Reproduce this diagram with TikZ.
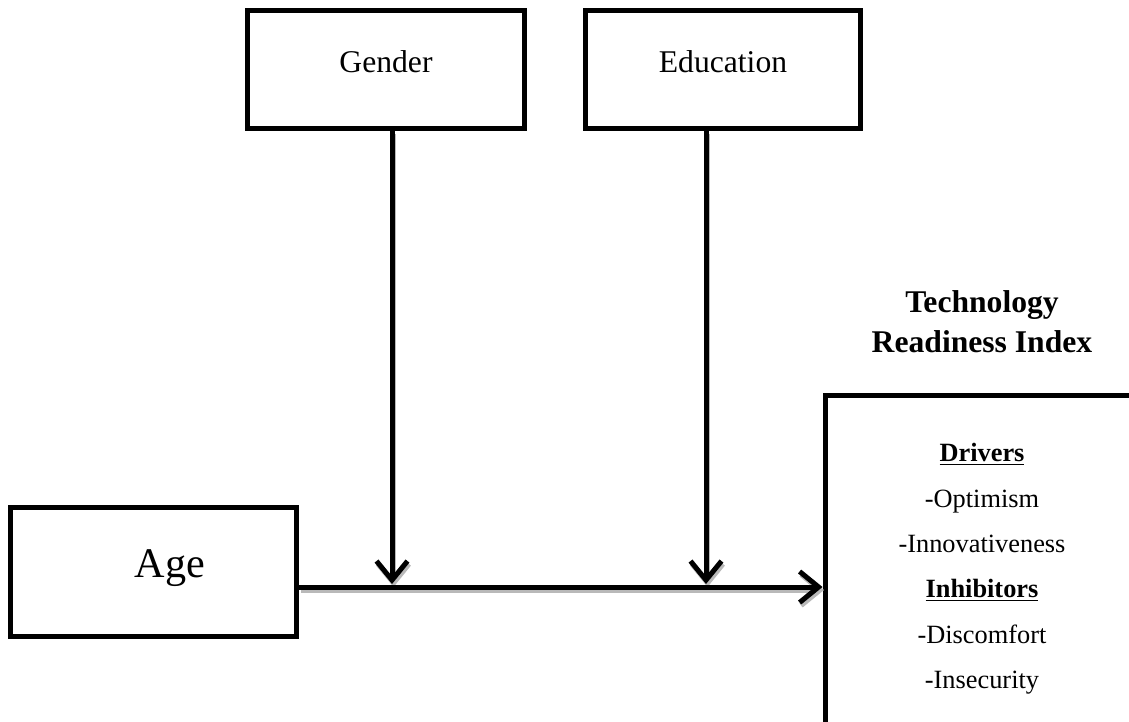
\documentclass[tikz,border=0pt]{standalone}
\usepackage{fontspec}
\setmainfont{Liberation Serif}
\usetikzlibrary{arrows.meta,positioning}

\begin{document}
\begin{tikzpicture}[x=0.02cm,y=-0.02cm,
factor/.style={
  draw,
  line width=0.1cm,
  minimum width=5.56cm,
  minimum height=2.38cm,
  inner sep=0pt},
txt/.style={
  font={\fontsize{18pt}{22pt}\selectfont},
  inner sep=0pt},
heading/.style={
  font={\bfseries\fontsize{18pt}{22.7pt}\selectfont},
  align=center,
  inner sep=0pt},
tribox/.style={
  factor,
  minimum width=6.3cm,
  minimum height=6.8cm},
items/.style={
  font={\fontsize{15pt}{25.8pt}\selectfont},
  align=center,
  inner sep=0pt},
flow/.style={
  line width=0.1cm,
  -{Straight Barb[length=0.38cm,width=0.62cm]}},
flowshade/.style={
  flow,
  draw=gray!55,
  transform canvas={shift={(0.03cm,-0.06cm)}}},
]
\useasboundingbox (0,0) rectangle (1129,721);

\node[factor] (gender) at (386,69.5) {};
\node[txt] (genderTxt) at (386,62) {Gender};
\node[factor,minimum width=5.52cm] (edu) at (723,69.5) {};
\node[txt] (eduTxt) at (723,62) {Education};

\node[factor,minimum width=5.74cm,minimum height=2.58cm] (age) at (153.5,571.5) {};
\node[txt,font={\fontsize{24pt}{28pt}\selectfont}] (ageTxt) at (170,568) {Age};

\node[heading] (triTitle) at (982,322) {Technology\\Readiness Index};
\node[tribox] (tri) at (982.5,565) {};
\node[items] (triTxt) at (982,569) {\underline{\textbf{Drivers}}\\-Optimism\\
-Innovativeness\\\underline{\textbf{Inhibitors}}\\-Discomfort\\-Insecurity};

% arrows onto the main path
\coordinate (hLine) at (0,587);
\coordinate (gArr) at (392,584);
\coordinate (eArr) at (706,584);
\draw[flowshade] (age.east |- hLine) -- (tri.west |- hLine);
\draw[flowshade] (gender.south -| gArr) -- (gArr);
\draw[flowshade] (edu.south -| eArr) -- (eArr);
\draw[flow] (age.east |- hLine) -- (tri.west |- hLine);
\draw[flow] (gender.south -| gArr) -- (gArr);
\draw[flow] (edu.south -| eArr) -- (eArr);

\end{tikzpicture}
\end{document}
